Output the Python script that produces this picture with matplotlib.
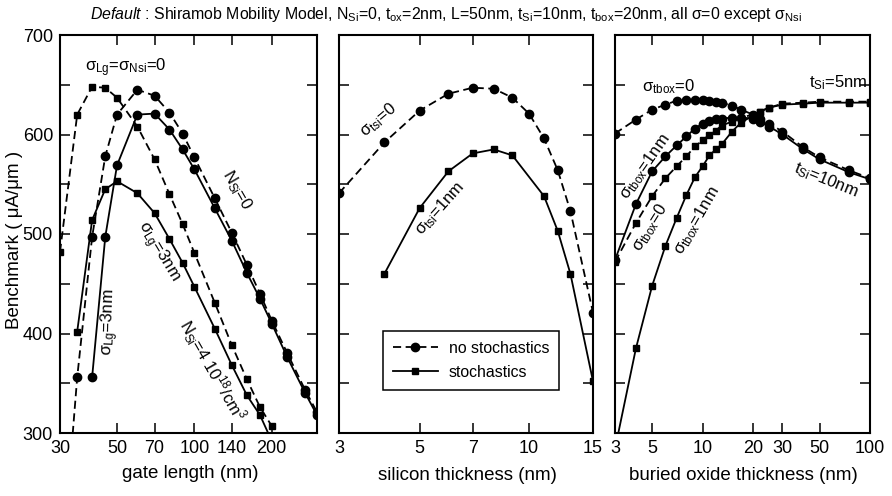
import matplotlib
matplotlib.use("Agg")
import matplotlib.pyplot as plt
from matplotlib.ticker import FixedLocator, FixedFormatter, MultipleLocator, NullLocator
from matplotlib.lines import Line2D

plt.rcParams["font.family"] = ["Liberation Sans", "DejaVu Sans"]
plt.rcParams["mathtext.fontset"] = "custom"
plt.rcParams["mathtext.rm"] = "Liberation Sans"
plt.rcParams["mathtext.it"] = "Liberation Sans:italic"

# gate length panel (NSi=0 and NSi=4e18, with / without stochastics)
L_nsi0_nostoch = [32, 35, 40, 45, 50, 60, 70, 80, 90, 100, 120, 140, 160, 180, 200, 230, 270, 300]
b_nsi0_nostoch = [230, 356, 497, 578, 620, 645, 639, 622, 601, 577, 536, 501, 469, 440, 413, 380, 343, 321]
L_nsi0_stoch = [40, 45, 50, 60, 70, 80, 90, 100, 120, 140, 160, 180, 200, 230, 270, 300]
b_nsi0_stoch = [356, 497, 569, 620, 621, 605, 585, 565, 526, 493, 461, 435, 410, 376, 340, 318]
L_nsi4_nostoch = [30, 35, 40, 45, 50, 60, 70, 80, 90, 100, 120, 140, 160, 180, 200]
b_nsi4_nostoch = [482, 620, 648, 647, 637, 608, 575, 540, 510, 481, 431, 388, 354, 326, 307]
L_nsi4_stoch = [35, 40, 45, 50, 60, 70, 80, 90, 100, 120, 140, 160, 180, 200]
b_nsi4_stoch = [402, 514, 545, 553, 541, 521, 495, 471, 447, 405, 368, 338, 318, 292]

# silicon thickness panel
t_si_nostoch = [3, 4, 5, 6, 7, 8, 9, 10, 11, 12, 13, 15]
b_tsi_nostoch = [541, 592, 624, 641, 647, 646, 637, 621, 596, 564, 523, 421]
t_si_stoch = [4, 5, 6, 7, 8, 9, 11, 12, 13, 15]
b_tsi_stoch = [460, 526, 563, 581, 585, 579, 538, 503, 460, 352]

# buried oxide thickness panel
t_box = [3, 4, 5, 6, 7, 8, 9, 10, 11, 12, 13, 15, 17, 20, 22, 25, 30, 40, 50, 75, 100]
b_tsi10_nostoch = [601, 615, 625, 630, 634, 635, 635, 635, 634, 633, 632, 629, 625, 620, 616, 611, 603, 587, 577, 564, 556]
b_tsi10_stoch = [474, 530, 563, 578, 589, 598, 606, 611, 614, 616, 616, 617, 617, 616, 613, 608, 600, 585, 575, 562, 555]
b_tsi5_nostoch = [472, 511, 538, 556, 568, 578, 588, 594, 600, 604, 609, 613, 617, 620, 623, 627, 631, 632, 633, 633, 633]
b_tsi5_stoch = [284, 385, 448, 488, 516, 539, 557, 568, 579, 585, 590, 603, 612, 619, 623, 627, 630, 631, 632, 632, 632]

ticks_L = [30, 50, 70, 100, 140, 200]
ticks_tsi = [3, 5, 7, 10, 15]
ticks_tbox = [3, 5, 10, 20, 30, 50, 100]

W, H = 892, 496
fig = plt.figure(figsize=(W / 100, H / 100), dpi=100)


def px_axes(x0, x1, y0=35, y1=433):
    return fig.add_axes([x0 / W, 1 - y1 / H, (x1 - x0) / W, (y1 - y0) / H])


dash = (0, (4.5, 2.5))
kw_c = dict(color="black", lw=1.3, marker="o", ms=6)
kw_s = dict(color="black", lw=1.3, marker="s", ms=4.8)


def style(ax, xlim, ticks, show_y):
    ax.set_xscale("log")
    ax.set_xlim(*xlim)
    ax.set_ylim(300, 700)
    ax.xaxis.set_major_locator(FixedLocator(ticks))
    ax.xaxis.set_major_formatter(FixedFormatter([str(t) for t in ticks]))
    ax.xaxis.set_minor_locator(NullLocator())
    ax.yaxis.set_major_locator(MultipleLocator(100))
    ax.yaxis.set_minor_locator(MultipleLocator(50))
    ax.tick_params(which="both", direction="in", top=True, right=True,
                   length=7, width=1.1, labelsize=13, pad=5)
    if not show_y:
        ax.tick_params(axis="y", labelleft=False)
    for s in ax.spines.values():
        s.set_linewidth(1.5)


ax1 = px_axes(60, 317)
ax1.plot(L_nsi0_nostoch, b_nsi0_nostoch, ls=dash, **kw_c)
ax1.plot(L_nsi0_stoch, b_nsi0_stoch, ls="-", **kw_c)
ax1.plot(L_nsi4_nostoch, b_nsi4_nostoch, ls=dash, **kw_s)
ax1.plot(L_nsi4_stoch, b_nsi4_stoch, ls="-", **kw_s)
style(ax1, (30, 300), ticks_L, True)

ax2 = px_axes(339, 593)
ax2.plot(t_si_nostoch, b_tsi_nostoch, ls=dash, **kw_c)
ax2.plot(t_si_stoch, b_tsi_stoch, ls="-", **kw_s)
style(ax2, (3, 15), ticks_tsi, False)

ax3 = px_axes(615, 870)
ax3.plot(t_box, b_tsi10_nostoch, ls=dash, **kw_c)
ax3.plot(t_box, b_tsi10_stoch, ls="-", **kw_c)
ax3.plot(t_box, b_tsi5_nostoch, ls=dash, **kw_s)
ax3.plot(t_box, b_tsi5_stoch, ls="-", **kw_s)
style(ax3, (3, 100), ticks_tbox, False)

handles = [Line2D([], [], ls=dash, **kw_c), Line2D([], [], ls="-", **kw_s)]
leg = ax2.legend(handles, ["no stochastics", "stochastics"], loc="lower left",
                 bbox_to_anchor=(0.173, 0.108), borderaxespad=0,
                 fancybox=False, framealpha=1, edgecolor="black",
                 fontsize=11.4, handlelength=2.8, handletextpad=0.7,
                 borderpad=0.65, labelspacing=0.55)
leg.get_frame().set_linewidth(1.1)


def ftext(x, y, s, rot=0, size=12, **kw):
    fig.text(x / W, 1 - y / H, s, rotation=rot, fontsize=size,
             ha="center", va="center", rotation_mode="anchor", **kw)


ftext(446, 14, r"$\mathit{Default}$ : Shiramob Mobility Model, N$_{\mathrm{Si}}$=0, "
      r"t$_{\mathrm{ox}}$=2nm, L=50nm, t$_{\mathrm{Si}}$=10nm, t$_{\mathrm{box}}$=20nm, "
      r"all σ=0 except σ$_{\mathrm{Nsi}}$", size=11.4)
ftext(15, 240, "Benchmark ( μA/μm )", rot=90, size=13.5)
ftext(190, 474, "gate length (nm)", size=13.5)
ftext(467, 476, "silicon thickness (nm)", size=13.5)
ftext(743, 476, "buried oxide thickness (nm)", size=13.5)

# panel annotations
ftext(126, 68, r"σ$_{\mathrm{Lg}}$=σ$_{\mathrm{Nsi}}$=0")
ftext(237, 190, r"N$_{\mathrm{Si}}$=0", rot=-60)
ftext(158, 252, r"σ$_{\mathrm{Lg}}$=3nm", rot=-59)
ftext(110, 322, r"σ$_{\mathrm{Lg}}$=3nm", rot=88)
ftext(212, 370, r"N$_{\mathrm{Si}}$=4 10$^{18}$/cm$^{3}$", rot=-60)
ftext(378, 120, r"σ$_{\mathrm{tsi}}$=0", rot=40)
ftext(440, 208, r"σ$_{\mathrm{tsi}}$=1nm", rot=48)
ftext(669, 87, r"σ$_{\mathrm{tbox}}$=0")
ftext(838, 83, r"t$_{\mathrm{Si}}$=5nm")
ftext(826, 180, r"t$_{\mathrm{Si}}$=10nm", rot=-22)
ftext(645, 167, r"σ$_{\mathrm{tbox}}$=1nm", rot=55)
ftext(650, 227, r"σ$_{\mathrm{tbox}}$=0", rot=58)
ftext(697, 220, r"σ$_{\mathrm{tbox}}$=1nm", rot=60)

fig.savefig("out.png", dpi=100)
